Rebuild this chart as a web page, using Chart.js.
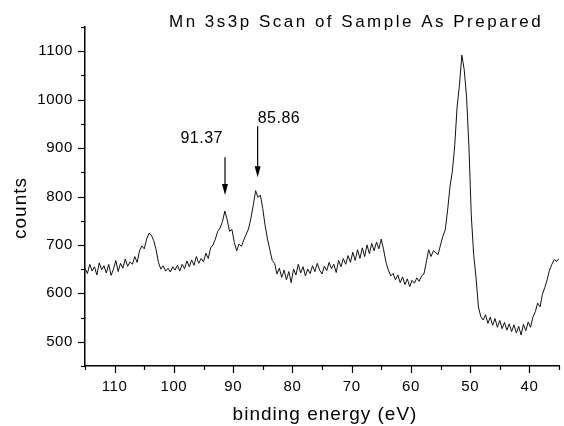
<!DOCTYPE html>
<html>
<head>
<meta charset="utf-8">
<script src="https://cdn.jsdelivr.net/npm/chart.js@4"></script>
<style>
  html, body { margin: 0; padding: 0; background: #fff; }
  #wrap { width: 564px; height: 426px; }
</style>
</head>
<body>
<div id="wrap"><canvas id="myChart" width="564" height="426"></canvas></div>
<script>
const titleText = 'Mn 3s3p Scan of Sample As Prepared';
const xTitle = 'binding energy (eV)';
const yTitle = 'counts';

// spectrum sampled every 0.4 eV, from 115 eV down to 35 eV
const energyStart = 115;
const energyStep = 0.4;
const counts = [
    652, 641, 660, 646, 655, 638, 663, 649, 657, 642,
    660, 637, 650, 668, 645, 662, 652, 671, 656, 665,
    660, 676, 664, 688, 698, 692, 712, 724, 720, 709,
    690, 664, 650, 657, 646, 652, 644, 655, 648, 658,
    646, 660, 651, 667, 655, 669, 658, 676, 662, 672,
    665, 683, 672, 694, 700, 712, 728, 735, 748, 770,
    752, 728, 732, 705, 688, 702, 697, 710, 722, 733,
    755, 782, 812, 798, 803, 775, 740, 712, 690, 668,
    662, 640, 652, 633, 648, 628, 645, 622, 650, 638,
    660, 642, 655, 636, 650, 641, 657, 645, 662, 648,
    640, 656, 647, 664, 651, 660, 643, 668, 655, 672,
    660, 678, 664, 685, 668, 690, 672, 694, 676, 700,
    682, 703, 688, 706, 692, 712, 690, 664, 648, 636,
    641, 628, 638, 622, 634, 618, 630, 614, 627, 621,
    632, 625, 636, 640, 664, 690, 676, 688, 684, 680,
    700, 718, 731, 772, 820, 852, 905, 985, 1030, 1092,
    1062, 1005, 902, 760, 680, 632, 572, 552, 545, 556,
    538, 551, 534, 548, 530, 544, 527, 540, 524, 537,
    521, 535, 518, 532, 514, 536, 523, 541, 530, 551,
    562, 580, 572, 598, 612, 628, 648, 660, 670, 666, 672
];

const peakEnergies = [91.37, 85.86];
const peakLabels = ['91.37', '85.86'];

const xTicks = [115, 110, 105, 100, 95, 90, 85, 80, 75, 70, 65, 60, 55, 50, 45, 40, 35];
const yTicks = [450, 500, 550, 600, 650, 700, 750, 800, 850, 900, 950, 1000, 1050, 1100, 1150];

const FONT = "'Liberation Sans', Arial, sans-serif";

// arrows and labels above the two small peaks (in data units)
const arrowSpec = [
    { top: 881, tip: 803, textY: 910, align: 'right', dx: -2 },
    { top: 945, tip: 840, textY: 951, align: 'left', dx: 0 }
];

const decorations = {
    id: 'decorations',
    beforeDraw(chart) {
        // slightly wider tick labels, like the scanned original
        chart.ctx.letterSpacing = '0.6px';
    },
    afterDraw(chart) {
        const ctx = chart.ctx;
        const xs = chart.scales.x;
        const ys = chart.scales.y;
        const a = chart.chartArea;

        ctx.save();
        ctx.strokeStyle = '#000';
        ctx.fillStyle = '#000';
        ctx.lineWidth = 1.2;

        // tick marks, outward
        xTicks.forEach(v => {
            const px = Math.round(xs.getPixelForValue(v)) + 0.5;
            const len = v % 10 === 0 ? 7 : 4;
            ctx.beginPath();
            ctx.moveTo(px, a.bottom);
            ctx.lineTo(px, a.bottom + len);
            ctx.stroke();
        });
        yTicks.forEach(v => {
            const py = Math.round(ys.getPixelForValue(v)) + 0.5;
            const len = v % 100 === 0 ? 7 : 4;
            ctx.beginPath();
            ctx.moveTo(a.left - len, py);
            ctx.lineTo(a.left, py);
            ctx.stroke();
        });

        // arrows
        peakEnergies.forEach((e, i) => {
            const s = arrowSpec[i];
            const px = xs.getPixelForValue(e);
            const y0 = ys.getPixelForValue(s.top);
            const y1 = ys.getPixelForValue(s.tip);
            ctx.beginPath();
            ctx.moveTo(px, y0);
            ctx.lineTo(px, y1 - 8);
            ctx.stroke();
            ctx.beginPath();
            ctx.moveTo(px - 3, y1 - 11);
            ctx.lineTo(px + 3, y1 - 11);
            ctx.lineTo(px, y1);
            ctx.closePath();
            ctx.fill();

            ctx.letterSpacing = '0.5px';
            ctx.font = '16px ' + FONT;
            ctx.textAlign = s.align;
            ctx.textBaseline = 'alphabetic';
            ctx.fillText(peakLabels[i], px + s.dx, ys.getPixelForValue(s.textY));
        });

        // title
        ctx.letterSpacing = '2.5px';
        ctx.font = '17px ' + FONT;
        ctx.textAlign = 'left';
        ctx.fillText(titleText, 169, 27);

        // axis titles
        ctx.letterSpacing = '1px';
        ctx.font = '19px ' + FONT;
        ctx.textAlign = 'center';
        ctx.fillText(xTitle, 325, 420);

        ctx.translate(26, 208);
        ctx.rotate(-Math.PI / 2);
        ctx.fillText(yTitle, 0, 0);
        ctx.restore();
    }
};

const ctx = document.getElementById('myChart').getContext('2d');
window.myChart = new Chart(ctx, {
    type: 'line',
    data: {
        datasets: [{
            data: counts.map((c, i) => ({ x: energyStart - i * energyStep, y: c })),
            borderColor: '#111',
            borderWidth: 1,
            pointRadius: 0,
            tension: 0,
            fill: false
        }]
    },
    options: {
        responsive: false,
        animation: false,
        layout: { padding: { top: 27, right: 0, bottom: 0, left: 0 } },
        plugins: {
            legend: { display: false },
            title: { display: false },
            tooltip: { enabled: false }
        },
        scales: {
            x: {
                type: 'linear',
                reverse: true,
                min: 35,
                max: 115,
                afterBuildTicks: s => { s.ticks = xTicks.map(v => ({ value: v })); },
                afterFit: s => { s.height = 60; },
                grid: { drawOnChartArea: false, drawTicks: true, tickLength: 7, color: 'rgba(0,0,0,0)' },
                border: { display: true, color: '#000', width: 1.5 },
                ticks: {
                    autoSkip: false,
                    maxRotation: 0,
                    padding: 5,
                    color: '#000',
                    font: { family: FONT, size: 15 },
                    callback: v => (v % 10 === 0 && v !== 35 && v !== 115) ? v : ''
                }
            },
            y: {
                type: 'linear',
                min: 450,
                max: 1150,
                afterBuildTicks: s => { s.ticks = yTicks.map(v => ({ value: v })); },
                afterFit: s => { s.width = 85; },
                grid: { drawOnChartArea: false, drawTicks: true, tickLength: 7, color: 'rgba(0,0,0,0)' },
                border: { display: true, color: '#000', width: 1.5 },
                ticks: {
                    autoSkip: false,
                    padding: 5,
                    color: '#000',
                    font: { family: FONT, size: 15 },
                    callback: v => v % 100 === 0 ? v : ''
                }
            }
        }
    },
    plugins: [decorations]
});
</script>
</body>
</html>
